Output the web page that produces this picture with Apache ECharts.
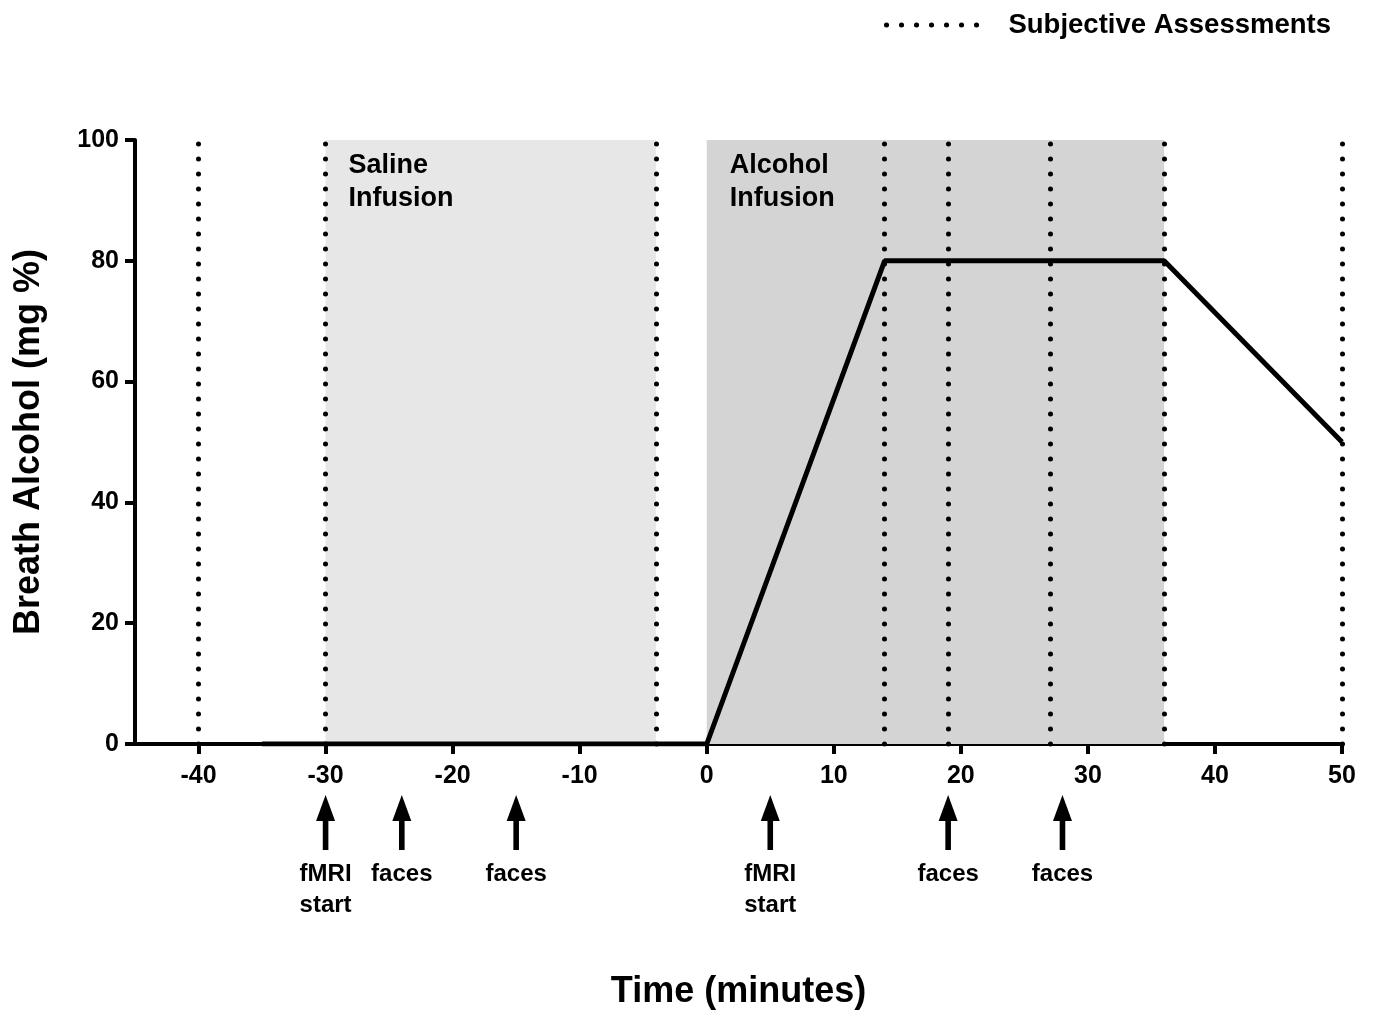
<!DOCTYPE html>
<html>
<head>
<meta charset="utf-8">
<script src="https://cdn.jsdelivr.net/npm/echarts@6/dist/echarts.min.js"></script>
<style>
  html, body { margin: 0; padding: 0; background: #fff; }
  #chart { width: 1376px; height: 1019px; }
</style>
</head>
<body>
<div id="chart"></div>
<script>
// ---- data ----
const timeMin = -45;
const timeMax = 50;
const xTicks = [-40, -30, -20, -10, 0, 10, 20, 30, 40, 50];
const yMin = 0;
const yMax = 100;
const yInterval = 20;
const bacTime = [-35, 0, 14, 36, 50];
const bacValue = [0, 0, 80, 80, 50];
const assessmentTimes = [-40, -30, -4, 14, 19, 27, 36, 50];
const salineRange = [-30, -4];
const alcoholRange = [0, 36];
const salineLabel = 'Saline\nInfusion';
const alcoholLabel = 'Alcohol\nInfusion';
const arrowTimes = [-30, -24, -15, 5, 19, 28];
const arrowLabels = ['fMRI\nstart', 'faces', 'faces', 'fMRI\nstart', 'faces', 'faces'];

const FONT = "'Liberation Sans', Arial, Helvetica, sans-serif";
const dotStyle = { color: '#000', width: 5, type: [0.1, 14.9], cap: 'round' };

const chart = echarts.init(document.getElementById('chart'));
chart.setOption({
  animation: false,
  backgroundColor: '#fff',
  textStyle: { fontFamily: FONT },
  grid: { left: 135, right: 34, top: 140, bottom: 275, containLabel: false },
  legend: {
    data: ['Subjective Assessments'],
    right: 40, top: 6,
    itemWidth: 102, itemHeight: 14, itemGap: 10,
    itemStyle: { opacity: 0 },
    lineStyle: { color: '#000', width: 5, type: [0.1, 14.9], cap: 'round' },
    textStyle: { fontFamily: FONT, fontWeight: 'bold', fontSize: 27.5, color: '#000', padding: [0, 0, 0, 15] },
    selectedMode: false
  },
  xAxis: {
    type: 'value', min: timeMin, max: timeMax,
    name: 'Time (minutes)', nameLocation: 'middle', nameGap: 230,
    nameTextStyle: { fontFamily: FONT, fontWeight: 'bold', fontSize: 36, color: '#000', verticalAlign: 'top' },
    axisLine: { show: true, onZero: false, lineStyle: { color: '#000', width: 4 } },
    axisTick: { show: true, length: 10, lineStyle: { color: '#000', width: 4 }, customValues: xTicks },
    axisLabel: { fontFamily: FONT, fontWeight: 'bold', fontSize: 25, color: '#000', margin: 20, customValues: xTicks },
    splitLine: { show: false }
  },
  yAxis: {
    type: 'value', min: yMin, max: yMax, interval: yInterval,
    name: 'Breath Alcohol (mg %)', nameLocation: 'middle', nameGap: 88,
    nameTextStyle: { fontFamily: FONT, fontWeight: 'bold', fontSize: 36, color: '#000' },
    axisLine: { show: true, onZero: false, lineStyle: { color: '#000', width: 4 } },
    axisTick: { show: true, length: 10, lineStyle: { color: '#000', width: 4 } },
    axisLabel: { fontFamily: FONT, fontWeight: 'bold', fontSize: 25, color: '#000', margin: 16 },
    splitLine: { show: false }
  },
  series: [
    {
      name: 'Breath Alcohol',
      type: 'line',
      data: bacTime.map((t, i) => [t, bacValue[i]]),
      symbol: 'none',
      lineStyle: { color: '#000', width: 5 },
      z: 3,
      markArea: {
        silent: true,
        data: [
          [{ xAxis: salineRange[0], yAxis: yMax, name: salineLabel, itemStyle: { color: '#e7e7e7' } },
           { xAxis: salineRange[1], yAxis: yMin }],
          [{ xAxis: alcoholRange[0], yAxis: yMax, name: alcoholLabel, itemStyle: { color: '#d4d4d4' } },
           { xAxis: alcoholRange[1], yAxis: yMin }]
        ],
        label: {
          show: true, position: [23, 9],
          fontFamily: FONT, fontWeight: 'bold', fontSize: 27, color: '#000',
          lineHeight: 33, align: 'left', verticalAlign: 'top'
        }
      }
    },
    {
      name: 'Subjective Assessments',
      type: 'line',
      data: [],
      symbol: 'none',
      itemStyle: { color: '#000' },
      lineStyle: dotStyle,
      z: 4,
      markLine: {
        silent: true,
        symbol: ['none', 'none'],
        label: { show: false },
        lineStyle: dotStyle,
        data: assessmentTimes.map(t => ({ xAxis: t }))
      }
    },
    {
      name: 'Scan Events',
      type: 'custom',
      coordinateSystem: 'cartesian2d',
      clip: false,
      silent: true,
      data: arrowTimes.map(t => [t, 0]),
      renderItem: function (params, api) {
        const p = api.coord([api.value(0), 0]);
        const x = p[0], y0 = p[1];
        return {
          type: 'group',
          children: [
            { type: 'rect', shape: { x: x - 2.8, y: y0 + 72, width: 5.6, height: 34 }, style: { fill: '#000' } },
            { type: 'polygon', shape: { points: [[x, y0 + 51], [x - 9.5, y0 + 77], [x + 9.5, y0 + 77]] }, style: { fill: '#000' } },
            { type: 'text', x: x, y: y0 + 115,
              style: { text: arrowLabels[params.dataIndex], fill: '#000', font: "bold 24px " + FONT,
                       align: 'center', verticalAlign: 'top', lineHeight: 31 } }
          ]
        };
      }
    }
  ]
});
</script>
</body>
</html>
